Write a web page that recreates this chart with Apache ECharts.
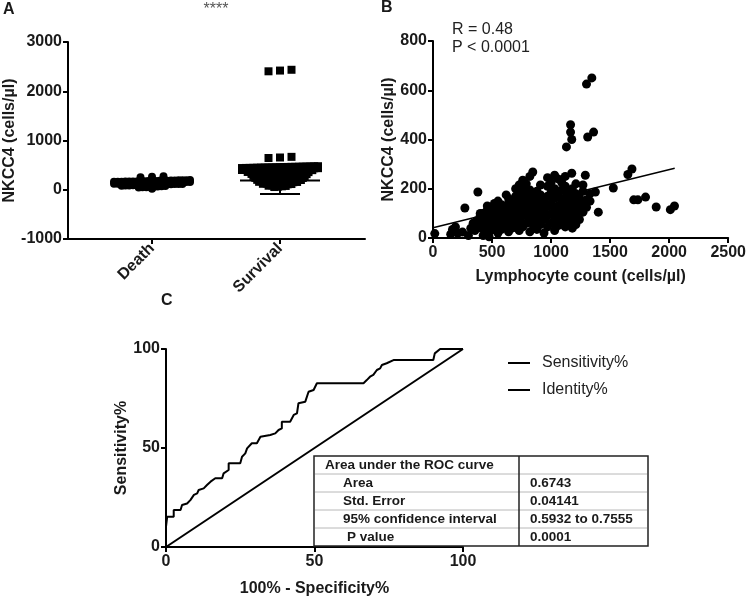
<!DOCTYPE html>
<html><head><meta charset="utf-8">
<script src="https://cdn.jsdelivr.net/npm/echarts@6/dist/echarts.min.js"></script>
<style>html,body{margin:0;padding:0;background:#fff}#c{width:749px;height:599px}</style>
</head><body><div id="c"></div>
<script>
// ---------- Panel A data ----------
const catsA = ['Death', 'Survival'];
const sigA = '****';
const yTicksA = [-1000, 0, 1000, 2000, 3000];
const deathValues = [
  22,
  44, 49, 53, 58, 61, 66, 70, 76,
  81, 84, 86, 89, 92, 94, 97, 99, 101, 104, 106, 109, 111, 113, 115, 117, 119,
  121, 122, 124, 126, 128, 130, 131, 133, 135, 137, 139, 141, 142, 144, 146, 148, 150, 152, 154, 156, 158,
  160, 161, 163, 165, 167, 168, 170, 172, 174, 176, 178, 180, 181, 183, 185, 187, 189, 191, 193, 195, 198,
  253, 264, 276
];
const survivalValues = [
  55, 63, 70, 77,
  82, 88, 93, 99, 104, 110, 116,
  121, 125, 129, 133, 137, 141, 145, 149, 153, 158,
  161, 164, 168, 171, 174, 178, 181, 184, 188, 191, 194, 198,
  201, 204, 207, 210, 213, 216, 219, 222, 225, 228, 231, 234, 238,
  241, 243, 246, 249, 252, 255, 258, 261, 264, 267, 270, 273, 276, 279,
  281, 283, 286, 288, 291, 293, 296, 298, 301, 304, 306, 309, 311, 314, 317,
  321, 323, 326, 328, 330, 333, 335, 338, 340, 342, 345, 347, 350, 352, 355, 358,
  361, 363, 365, 367, 369, 371, 374, 376, 378, 380, 382, 384, 386, 388, 391, 393, 395, 398,
  401, 403, 405, 406, 408, 410, 412, 414, 416, 418, 419, 421, 423, 425, 427, 429, 431, 432, 434, 436, 438,
  441, 443, 444, 446, 448, 450, 452, 454, 455, 457, 459, 461, 463, 465, 466, 468, 470, 472, 474, 476, 478,
  645, 655, 668,
  2405, 2420, 2436
];
// [category position, mean, SD]
const errA = [[1, 130, 55], [2, 186, 272]];

// ---------- Panel B data ----------
const xTicksB = [0, 500, 1000, 1500, 2000, 2500];
const yTicksB = [0, 200, 400, 600, 800];
const statsB = ['R = 0.48', 'P < 0.0001'];
const scatterB = [
  [15,18],[150,15],[165,35],[190,45],[210,20],[250,24],[270,122],[300,10],
  [320,40],[340,60],[355,30],[370,70],[380,187],[390,55],[400,90],[410,40],[420,100],[425,10],[440,70],[450,15],[455,110],[460,50],[470,85],[475,5],
  [400,100],[430,40],[460,75],[460,130],[490,30],[490,65],[490,95],[490,120],
  [520,45],[520,80],[520,105],[520,140],[550,20],[550,60],[550,90],[550,125],[550,150],
  [580,35],[580,70],[580,110],[580,135],[610,50],[610,85],[610,120],[620,175],
  [640,25],[640,65],[640,100],[640,140],[640,160],[670,40],[670,80],[670,115],[670,150],
  [700,55],[700,95],[700,130],[700,170],[700,200],[730,30],[730,70],[730,110],[730,150],[730,185],[730,215],
  [760,45],[760,90],[760,125],[760,165],[760,205],[760,235],[790,60],[790,100],[790,140],[790,180],[790,220],
  [820,25],[820,75],[820,115],[820,155],[820,195],[820,250],[850,50],[850,90],[850,130],[850,170],[845,268],
  [880,35],[880,70],[880,110],[880,150],[880,190],[910,55],[910,95],[910,135],[910,175],[910,215],
  [940,20],[940,75],[940,115],[940,155],[970,45],[970,90],[970,130],[970,170],[970,210],[970,245],
  [1000,60],[1000,100],[1000,140],[1000,185],[1000,225],[1030,30],[1030,75],[1030,115],[1030,160],[1030,200],[1030,255],
  [1060,50],[1060,90],[1060,130],[1060,175],[1060,240],[1090,70],[1090,110],[1090,150],[1090,195],[1090,225],
  [1120,45],[1120,85],[1120,125],[1120,165],[1120,210],[1120,250],[1150,60],[1150,105],[1150,145],[1150,185],
  [1180,40],[1180,80],[1180,120],[1180,160],[1180,200],[1175,263],[1210,55],[1210,100],[1210,140],[1210,180],[1210,220],
  [1240,75],[1240,120],[1240,165],[1270,105],[1270,140],[1270,190],[1270,215],[1300,125],[1300,155],[1290,255],
  [1330,150],[1330,180],[1375,187],[1400,105],
  [1130,370],[1175,400],[1165,430],[1165,460],[1300,625],[1345,650],[1310,410],[1360,430],
  [1527,203],[1650,258],[1685,280],[1700,155],[1735,155],[1800,166],[1890,126],[2010,115],[2045,130]
];
const regLineB = [[0, 42], [2047, 283]];

// ---------- Panel C data ----------
const ticksC = [0, 50, 100];
const rocPoints = [
  [0,0],[0,10.3],[0.4,15.3],[2.6,15.3],[2.6,18.7],[4.9,18.7],[5.4,21.2],[7.1,22.0],[8.2,23.7],[9.4,26.3],
  [10.5,27.1],[11.0,28.8],[12.7,29.6],[13.8,31.3],[15.0,33.0],[16.6,34.7],[18.9,34.7],[19.4,37.2],[21.1,38.9],
  [21.1,42.3],[25.0,42.3],[25.6,45.6],[26.7,47.3],[27.3,49.8],[28.9,52.4],[30.6,52.4],[31.8,55.7],[35.1,56.6],
  [36.8,57.4],[37.9,59.1],[39.0,59.9],[39.0,63.3],[41.8,63.3],[43.0,66.7],[44.1,67.5],[44.6,72.6],[46.9,73.4],
  [48.0,78.4],[49.7,79.3],[50.8,82.7],[66.5,82.7],[67.6,84.3],[68.7,86.0],[69.8,86.9],[71.0,89.4],[72.1,90.2],
  [72.7,91.9],[74.3,92.8],[76.6,94.4],[90.0,94.4],[90.5,97.8],[92.3,100],[100,100]
];
const identityPoints = [[0, 0], [100, 100]];
const seriesNamesC = ['Sensitivity%', 'Identity%'];
const tableLabels = ['Area under the ROC curve', 'Area', 'Std. Error', '95% confidence interval', 'P value'];
const tableValues = ['', '0.6743', '0.04141', '0.5932 to 0.7555', '0.0001'];

// ---------- layout / style ----------
const font = '"Liberation Sans", Arial, Helvetica, sans-serif';
const xMinA = 0.34375, xMaxA = 2.664;
const gA = {left: 68, top: 42, width: 297, height: 197};
const unitPxA = gA.width / (xMaxA - xMinA);

function swarm(values, center, binSize) {
  const bins = {};
  values.forEach(v => { const b = Math.floor(v / binSize); (bins[b] = bins[b] || []).push(v); });
  const out = [];
  Object.keys(bins).forEach(k => {
    const arr = bins[k].slice().sort((a, b) => a - b);
    const n = arr.length;
    const sp = (n <= 3 ? 11.5 : 3.8) / unitPxA;
    arr.forEach((v, i) => out.push([center + (i - (n - 1) / 2) * sp, v]));
  });
  return out;
}

const axisLine = {show: true, onZero: false, lineStyle: {color: '#000', width: 2}};
const axisTick = {show: true, inside: false, length: 5, lineStyle: {color: '#000', width: 2}};
const plain = v => String(v);
const lbl = {color: '#1a1a1a', fontFamily: font, fontWeight: 'bold', fontSize: 16, formatter: plain};
const nameStyle = {color: '#1a1a1a', fontFamily: font, fontWeight: 'bold', fontSize: 16};
const noSplit = {show: false};
const dot = {color: '#000', opacity: 1};

const chart = echarts.init(document.getElementById('c'), null, {renderer: 'canvas'});

const tableTop = 456, rowH = 18, tLeft = 314, tRight = 648, tMid = 519;
const tableGraphics = [
  {type: 'rect', z: 100, shape: {x: tLeft, y: tableTop, width: tRight - tLeft, height: rowH * 5},
   style: {fill: '#fff', stroke: '#222', lineWidth: 1.5}}
];
for (let i = 1; i < 5; i++) {
  tableGraphics.push({type: 'line', z: 101, shape: {x1: tLeft + 1, y1: tableTop + rowH * i, x2: tRight - 1, y2: tableTop + rowH * i},
    style: {stroke: '#b8b8b8', lineWidth: 1}});
}
tableGraphics.push({type: 'line', z: 102, shape: {x1: tMid, y1: tableTop, x2: tMid, y2: tableTop + rowH * 5},
  style: {stroke: '#222', lineWidth: 1.5}});
tableLabels.forEach((t, i) => {
  const indent = i === 0 ? 11 : (i === 4 ? 33 : 29);
  tableGraphics.push({type: 'text', z: 103, x: tLeft + indent, y: tableTop + rowH * i + rowH / 2,
    style: {text: t, font: 'bold 13.5px ' + font, fill: '#1a1a1a', verticalAlign: 'middle', align: 'left'}});
  if (tableValues[i]) tableGraphics.push({type: 'text', z: 103, x: 530, y: tableTop + rowH * i + rowH / 2,
    style: {text: tableValues[i], font: 'bold 13.5px ' + font, fill: '#1a1a1a', verticalAlign: 'middle', align: 'left'}});
});

const option = {
  animation: false,
  backgroundColor: '#fff',
  grid: [
    gA,
    {left: 433, top: 41, width: 298, height: 197},
    {left: 166, top: 349, width: 297, height: 198}
  ],
  legend: {
    data: seriesNamesC, orient: 'vertical', left: 503, top: 350, icon: 'rect',
    itemWidth: 22, itemHeight: 2, itemGap: 11,
    textStyle: {fontFamily: font, fontSize: 16, color: '#222', padding: [0, 0, 0, 7]}
  },
  xAxis: [
    {gridIndex: 0, type: 'value', min: xMinA, max: xMaxA, axisLine, splitLine: noSplit,
     axisTick: Object.assign({}, axisTick, {customValues: [1, 2]}),
     axisLabel: Object.assign({}, lbl, {customValues: [1, 2], rotate: 45, margin: 7,
       formatter: v => catsA[Math.round(v) - 1] || ''})},
    {gridIndex: 1, type: 'value', min: xTicksB[0], max: xTicksB[xTicksB.length - 1], interval: xTicksB[1] - xTicksB[0],
     name: 'Lymphocyte count (cells/µl)', nameLocation: 'middle', nameGap: 31, nameTextStyle: nameStyle,
     axisLine, axisTick, axisLabel: Object.assign({}, lbl, {margin: 7}), splitLine: noSplit},
    {gridIndex: 2, type: 'value', min: ticksC[0], max: ticksC[2], interval: ticksC[1] - ticksC[0],
     name: '100% - Specificity%', nameLocation: 'middle', nameGap: 34, nameTextStyle: nameStyle,
     axisLine, axisTick, axisLabel: Object.assign({}, lbl, {margin: 7}), splitLine: noSplit}
  ],
  yAxis: [
    {gridIndex: 0, type: 'value', min: yTicksA[0], max: yTicksA[yTicksA.length - 1], interval: yTicksA[1] - yTicksA[0],
     name: 'NKCC4 (cells/µl)', nameLocation: 'middle', nameGap: 45, nameRotate: 90, nameTextStyle: nameStyle,
     axisLine, axisTick, axisLabel: Object.assign({}, lbl, {margin: 6}), splitLine: noSplit},
    {gridIndex: 1, type: 'value', min: yTicksB[0], max: yTicksB[yTicksB.length - 1], interval: yTicksB[1] - yTicksB[0],
     name: 'NKCC4 (cells/µl)', nameLocation: 'middle', nameGap: 36, nameRotate: 90, nameTextStyle: nameStyle,
     axisLine, axisTick, axisLabel: Object.assign({}, lbl, {margin: 6}), splitLine: noSplit},
    {gridIndex: 2, type: 'value', min: ticksC[0], max: ticksC[2], interval: ticksC[1] - ticksC[0],
     name: 'Sensitivity%', nameLocation: 'middle', nameGap: 26, nameRotate: 90, nameTextStyle: nameStyle,
     axisLine, axisTick, axisLabel: Object.assign({}, lbl, {margin: 6}), splitLine: noSplit}
  ],
  series: [
    {type: 'scatter', xAxisIndex: 0, yAxisIndex: 0, symbol: 'circle', symbolSize: 8,
     itemStyle: dot, data: swarm(deathValues, 1, 40)},
    {type: 'scatter', xAxisIndex: 0, yAxisIndex: 0, symbol: 'rect', symbolSize: 8,
     itemStyle: dot, data: swarm(survivalValues, 2, 40)},
    {type: 'custom', xAxisIndex: 0, yAxisIndex: 0, z: 5, data: errA,
     renderItem: (params, api) => {
       const x = api.value(0), m = api.value(1), s = api.value(2);
       const c = api.coord([x, m]), t = api.coord([x, m + s]), b = api.coord([x, m - s]);
       const st = {stroke: '#000', lineWidth: 2};
       return {type: 'group', children: [
         {type: 'line', shape: {x1: c[0] - 40, y1: c[1], x2: c[0] + 40, y2: c[1]}, style: st},
         {type: 'line', shape: {x1: c[0], y1: t[1], x2: c[0], y2: b[1]}, style: st},
         {type: 'line', shape: {x1: c[0] - 20, y1: t[1], x2: c[0] + 20, y2: t[1]}, style: st},
         {type: 'line', shape: {x1: c[0] - 20, y1: b[1], x2: c[0] + 20, y2: b[1]}, style: st}
       ]};
     }},
    {type: 'scatter', xAxisIndex: 1, yAxisIndex: 1, symbol: 'circle', symbolSize: 9,
     itemStyle: dot, data: scatterB},
    {type: 'line', xAxisIndex: 1, yAxisIndex: 1, showSymbol: false, symbol: 'none',
     lineStyle: {color: '#000', width: 1.5}, data: regLineB, z: 5},
    {type: 'line', name: seriesNamesC[0], xAxisIndex: 2, yAxisIndex: 2, showSymbol: false, symbol: 'none',
     itemStyle: {color: '#000'}, lineStyle: {color: '#000', width: 2}, data: rocPoints},
    {type: 'line', name: seriesNamesC[1], xAxisIndex: 2, yAxisIndex: 2, showSymbol: false, symbol: 'none',
     itemStyle: {color: '#000'}, lineStyle: {color: '#000', width: 2}, data: identityPoints}
  ],
  graphic: [
    {type: 'text', x: 3, y: 10, style: {text: 'A', font: 'bold 16px ' + font, fill: '#1a1a1a', verticalAlign: 'middle'}},
    {type: 'text', x: 381, y: 8, style: {text: 'B', font: 'bold 16px ' + font, fill: '#1a1a1a', verticalAlign: 'middle'}},
    {type: 'text', x: 161, y: 301, style: {text: 'C', font: 'bold 16px ' + font, fill: '#1a1a1a', verticalAlign: 'middle'}},
    {type: 'text', x: 216, y: 2, style: {text: sigA, font: '16px ' + font, fill: '#555', align: 'center', verticalAlign: 'top'}},
    {type: 'text', x: 452, y: 22, style: {text: statsB[0], font: '16px ' + font, fill: '#222', verticalAlign: 'top'}},
    {type: 'text', x: 452, y: 40, style: {text: statsB[1], font: '16px ' + font, fill: '#222', verticalAlign: 'top'}}
  ].concat(tableGraphics)
};
chart.setOption(option);
</script>
</body></html>
